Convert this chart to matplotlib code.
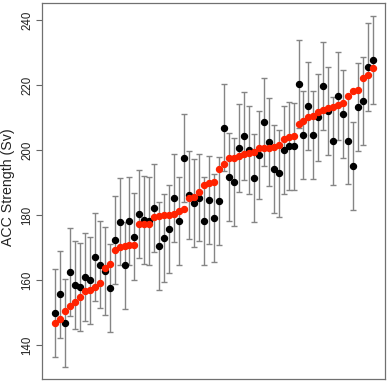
import numpy as np
import matplotlib
matplotlib.use("Agg")
from matplotlib import pyplot as plt

plt.rcParams['font.family'] = ['Liberation Sans', 'DejaVu Sans']

# observed values (black, with error bars)
observed = [150.0, 155.7, 146.9, 162.5, 158.7, 158.0, 161.0, 160.0, 167.2, 164.9,
            162.8, 157.7, 172.5, 178.1, 164.6, 178.4, 173.5, 180.4, 178.7, 178.2,
            182.2, 170.5, 173.1, 175.7, 185.4, 178.4, 197.7, 186.3, 183.9, 185.5,
            178.2, 184.8, 179.1, 184.5, 207.0, 191.9, 190.2, 200.8, 204.4, 200.1,
            191.4, 198.6, 208.8, 202.6, 194.2, 192.9, 200.2, 201.3, 201.2, 220.5,
            204.8, 213.6, 204.8, 210.1, 219.8, 212.2, 202.8, 216.8, 211.2, 203.0,
            195.1, 213.2, 215.2, 225.5, 227.8]

# model values (red)
model = [146.9, 148.2, 150.5, 152.1, 153.3, 155.0, 156.9, 157.1, 158.0, 159.3,
         163.8, 165.2, 169.5, 170.2, 170.5, 170.8, 170.9, 177.4, 177.4, 177.5,
         179.6, 179.9, 180.0, 180.2, 180.5, 181.5, 181.9, 185.3, 185.8, 187.2,
         189.4, 189.9, 190.4, 194.3, 195.8, 197.7, 197.7, 198.4, 198.9, 199.1,
         199.6, 200.7, 200.6, 200.7, 200.9, 201.7, 203.5, 204.1, 204.5, 208.1,
         209.1, 210.4, 210.6, 211.7, 212.5, 212.9, 213.4, 213.9, 214.6, 216.7,
         218.3, 218.7, 222.2, 223.2, 225.2]

err = 13.5
yticks = [140, 160, 180, 200, 220, 240]

x = np.arange(1, len(observed) + 1)

fig = plt.figure(figsize=(3.87, 3.82), dpi=100)
ax = fig.add_axes([42 / 387, 3 / 382, 343 / 387, 376 / 382])

ax.errorbar(x, observed, yerr=err, fmt='none', ecolor='#858585',
            elinewidth=1.0, capsize=2.0, capthick=1.0, zorder=1)
ax.plot(x, observed, 'o', color='black', markersize=4.3, zorder=2)
ax.plot(x, model, 'o', color='#ff2200', markersize=4.3, zorder=3)

ax.set_xlim(1 - 2.6, len(x) + 2.4)
ax.set_ylim(129.7, 245.3)
ax.set_xticks([])
ax.set_yticks(yticks)
ax.set_yticklabels([str(t) for t in yticks], rotation=90, va='center',
                   fontsize=8.3, color='#222222')
ax.tick_params(axis='y', length=4.3, width=0.8, pad=2.2, color='#666666')
for s in ax.spines.values():
    s.set_color('#707070')
    s.set_linewidth(0.9)

ax.set_ylabel('ACC Strength (Sv)', fontsize=10.2, color='#222222')
ax.yaxis.set_label_coords(-0.079, 0.51)

plt.savefig('out.png', dpi=100)
